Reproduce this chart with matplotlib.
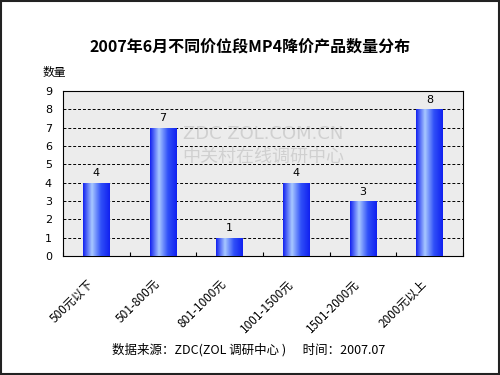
import matplotlib
matplotlib.use("Agg")
import matplotlib.pyplot as plt
import numpy as np
from matplotlib.colors import LinearSegmentedColormap

plt.rcParams['font.family'] = ['Noto Sans CJK SC', 'DejaVu Sans']

categories = ['500元以下', '501-800元', '801-1000元', '1001-1500元', '1501-2000元', '2000元以上']
values = [4, 7, 1, 4, 3, 8]
yticks = list(range(0, 10))

fig = plt.figure(figsize=(5, 3.75), dpi=100)
fig.patch.set_facecolor('white')
# outer frame
fig.add_artist(plt.Rectangle((0.002, 0.003), 0.995, 0.994, transform=fig.transFigure,
                             fill=False, edgecolor='#222222', linewidth=1.5))

ax = fig.add_axes([0.126, 0.317, 0.8, 0.44])
ax.set_facecolor('#ececec')
x = np.arange(len(categories))
bars = ax.bar(x, values, width=0.4, color='none', edgecolor='none', zorder=3)

cmap = LinearSegmentedColormap.from_list('bg', ['#1020f0', '#a8c8ff', '#3050f8', '#1020f0'])
grad = np.linspace(0, 1, 256).reshape(1, -1)
for b in bars:
    x0, w, h = b.get_x(), b.get_width(), b.get_height()
    im = ax.imshow(grad, extent=[x0, x0 + w, 0, h], aspect='auto', cmap=cmap, zorder=3)
    im.set_clip_path(b)
    ax.text(x0 + w / 2, h + 0.25, str(int(h)), ha='center', va='bottom', fontsize=8,
            family=['DejaVu Sans'], zorder=4)

ax.set_xlim(-0.5, len(categories) - 0.5)
ax.set_ylim(0, 9)
ax.set_yticks(yticks)
ax.set_yticklabels([str(t) for t in yticks], fontsize=8, family=['DejaVu Sans'])
for t in yticks[1:]:
    ax.axhline(t, color='black', linestyle=(0, (3, 2)), linewidth=0.7, zorder=2)
ax.set_xticks(np.arange(len(categories) + 1) - 0.5, minor=False)
ax.set_xticklabels([''] * (len(categories) + 1))
ax.tick_params(axis='x', direction='in', length=3)
ax.tick_params(axis='y', length=0, pad=8)
for i, c in enumerate(categories):
    ax.text(i - 0.15, -1.15, c, rotation=45, ha='right', va='top', fontsize=8.5,
            rotation_mode='anchor')
for s in ax.spines.values():
    s.set_linewidth(0.8)

# watermark
ax.text(0.5, 0.74, 'ZDC ZOL.COM.CN', transform=ax.transAxes, fontsize=13, color='#d0d0d0',
        ha='center', va='center', zorder=1, family=['DejaVu Sans'])
ax.text(0.5, 0.60, '中关村在线调研中心', transform=ax.transAxes, fontsize=13, color='#d0d0d0',
        ha='center', va='center', zorder=1)

fig.text(0.5, 0.875, '2007年6月不同价位段MP4降价产品数量分布', ha='center', va='center',
         fontsize=11.5, fontweight='bold')
fig.text(0.086, 0.808, '数量', ha='left', va='center', fontsize=8.5)
fig.text(0.498, 0.067, '数据来源：ZDC(ZOL 调研中心 )      时间：2007.07', ha='center', va='center',
         fontsize=9)

fig.savefig('out.png', dpi=100)
